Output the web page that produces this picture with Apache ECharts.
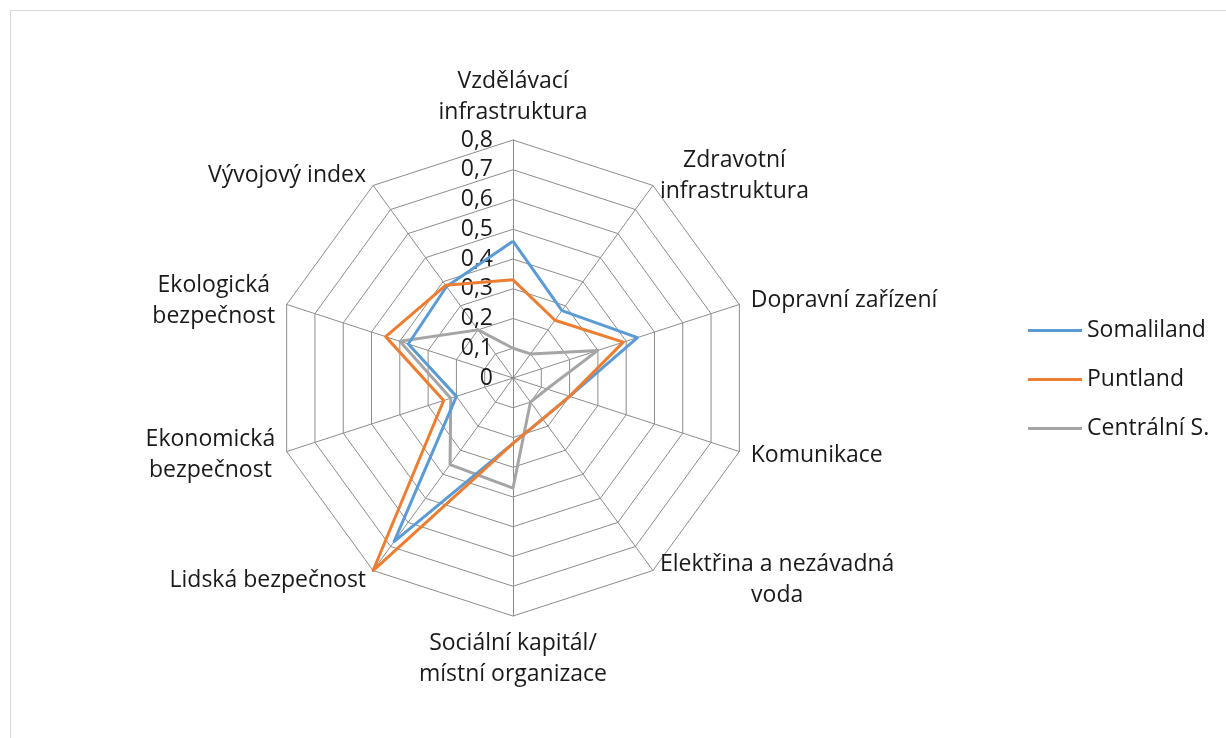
<!DOCTYPE html>
<html>
<head>
<meta charset="utf-8">
<title>Radar – Somálsko</title>
<script src="https://cdn.jsdelivr.net/npm/echarts@6/dist/echarts.min.js"></script>
<style>
html, body {
  margin: 0;
  padding: 0;
  background: #fff;
  overflow: hidden;
}
#frame {
  position: absolute;
  left: 10px;
  top: 10px;
  width: 1300px;
  height: 800px;
  border-left: 1px solid #d9d9d9;
  border-top: 1px solid #d9d9d9;
}
#chart {
  position: absolute;
  left: 0;
  top: 0;
  width: 1226px;
  height: 738px;
}
</style>
</head>
<body>
<div id="frame"></div>
<div id="chart"></div>
<script>
// osy grafu (po směru hodinových ručiček od vrcholu)
const categories = [
  'Vzdělávací\ninfrastruktura',
  'Zdravotní\ninfrastruktura',
  'Dopravní zařízení',
  'Komunikace',
  'Elektřina a nezávadná\nvoda',
  'Sociální kapitál/\nmístní organizace',
  'Lidská bezpečnost',
  'Ekonomická\nbezpečnost',
  'Ekologická\nbezpečnost',
  'Vývojový index'
];

const somaliland = [0.46, 0.28, 0.44, 0.20, 0.17, 0.22, 0.68, 0.20, 0.37, 0.38];
const puntland   = [0.33, 0.24, 0.39, 0.20, 0.17, 0.22, 0.80, 0.245, 0.45, 0.385];
const centralni  = [0.10, 0.10, 0.30, 0.12, 0.10, 0.37, 0.36, 0.22, 0.40, 0.20];

const seriesNames = ['Somaliland', 'Puntland', 'Centrální S.'];
const axisMax = 0.8;
const axisStep = 0.1;

const colors = {
  'Somaliland': '#5b9bd5',
  'Puntland': '#ed7d31',
  'Centrální S.': '#a5a5a5'
};

const font = '"Open Sans", "Noto Sans", sans-serif';
const fontSize = 23;
const textColor = '#1a1a1a';
const gridColor = '#8c8c8c';

// echarts kreslí radar proti směru hodin -> první osa nahoře, zbytek obráceně
const order = [0].concat(categories.map((_, i) => i).slice(1).reverse());
const reorder = arr => order.map(i => arr[i]);

const chart = echarts.init(document.getElementById('chart'), null, { renderer: 'canvas' });

const indicators = order.map((idx, i) => {
  const ind = { name: categories[idx], min: 0, max: axisMax };
  // popisky hodnot jen na první ose
  if (i === 0) ind.axisLabel = { show: true };
  return ind;
});

// šedá řada vespod, oranžová navrch
const drawOrder = [
  { name: 'Centrální S.', value: centralni },
  { name: 'Somaliland', value: somaliland },
  { name: 'Puntland', value: puntland }
];

chart.setOption({
  animation: false,
  textStyle: { fontFamily: font },
  legend: {
    data: seriesNames,
    orient: 'vertical',
    left: 1023,
    top: 314,
    itemWidth: 54,
    itemHeight: 3,
    itemGap: 26,
    icon: 'rect',
    textStyle: {
      fontFamily: font,
      fontSize: fontSize,
      color: textColor
    }
  },
  radar: {
    center: [513, 378],
    radius: 238,
    startAngle: 90,
    splitNumber: axisMax / axisStep,
    shape: 'polygon',
    nameGap: 12,
    axisName: {
      color: textColor,
      fontFamily: font,
      fontSize: fontSize,
      lineHeight: 31,
      formatter: name => name.split('\n').map(l => '{c|' + l + '}').join('\n'),
      rich: {
        c: { align: 'center', fontFamily: font, fontSize: fontSize, lineHeight: 31, color: textColor }
      }
    },
    axisLine: { lineStyle: { color: gridColor, width: 1 } },
    splitLine: { lineStyle: { color: gridColor, width: 1 } },
    splitArea: { show: false },
    axisTick: { show: false },
    axisLabel: {
      show: false,
      margin: 20,
      fontFamily: font,
      fontSize: fontSize,
      color: textColor,
      formatter: v => String(+v.toFixed(1)).replace('.', ',')
    },
    indicator: indicators
  },
  series: [
    {
      type: 'radar',
      symbol: 'none',
      lineStyle: { width: 3 },
      data: drawOrder.map(d => ({
        name: d.name,
        value: reorder(d.value),
        lineStyle: { color: colors[d.name], width: 3 },
        itemStyle: { color: colors[d.name] }
      }))
    }
  ]
});
</script>
</body>
</html>
